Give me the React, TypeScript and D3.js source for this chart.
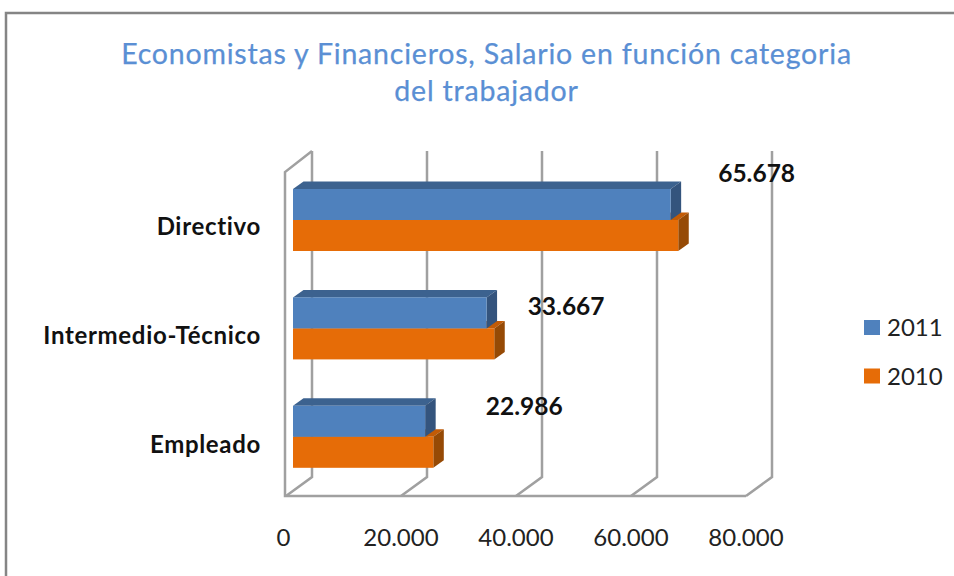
import React from "react";
import * as d3 from "d3";

const categories = ["Directivo", "Intermedio-Técnico", "Empleado"];
const values2011 = [65678, 33667, 22986];
const values2010 = [67000, 35000, 24400];
const valueLabels = ["65.678", "33.667", "22.986"];
const ticks = [0, 20000, 40000, 60000, 80000];
const tickLabels = ["0", "20.000", "40.000", "60.000", "80.000"];
const titleLines = ["Economistas y Financieros, Salario en función categoria", "del trabajador"];
const seriesNames = ["2011", "2010"];

const BLUE = "#4f81bd", BLUE_TOP = "#3c628f", BLUE_SIDE = "#34547d";
const ORANGE = "#e66c07", ORANGE_TOP = "#c25b06", ORANGE_SIDE = "#964a05";
const GRID = "#a0a0a0";
const FONT = "Lato, 'Open Sans', sans-serif";

export default function App() {
  const x = d3.scaleLinear().domain([0, 80000]).range([293, 753]);
  const y = d3.scaleBand().domain(categories).range([165.8, 491]);
  const barH = 31;
  const dx = 10.5, dy = 7.5;
  const backDx = 19, frontDx = -8, floorY = 496, backFloorY = 477, topY = 151;
  const labelOffsets = [86, 79.5, 99];
  const labelY = [182, 315, 415];

  const bar = (c: string, v: number, top: number, front: string, tp: string, side: string) => {
    const x0 = x(0), x1 = x(v), b = top + barH;
    return (
      <g key={c + front}>
        <polygon points={`${x0},${top} ${x0 + dx},${top - dy} ${x1 + dx},${top - dy} ${x1},${top}`} fill={tp} />
        <polygon points={`${x1},${top} ${x1 + dx},${top - dy} ${x1 + dx},${b - dy} ${x1},${b}`} fill={side} />
        <rect x={x0} y={top} width={x1 - x0} height={barH} fill={front} />
      </g>
    );
  };

  return (
    <svg width={954} height={576} style={{ position: "absolute", left: 0, top: 0, background: "#fff" }}>
      <path d="M6,576 V13 H954" fill="none" stroke="#858585" strokeWidth={2.5} />
      {titleLines.map((t, i) => (
        <text key={t} x={486.5} y={64 + i * 37} textAnchor="middle" fontFamily={FONT} fontSize={28.5} letterSpacing={0.8} fill="#5a8fd4" stroke="#5a8fd4" strokeWidth={0.25}>{t}</text>
      ))}
      <g fill="none" stroke={GRID} strokeWidth={2.5}>
        {ticks.map((t) => (
          <path key={t} d={`M${x(t) + backDx},${topY} V${backFloorY} L${x(t) + frontDx + 1},${floorY}`} />
        ))}
        <path d={`M${x(0) + backDx},${topY} L${x(0) + frontDx},${topY + 21} V${floorY} H${x(80000) + frontDx + 1}`} />
      </g>
      {categories.map((c, i) => {
        const top = (y(c) as number) + 23.2;
        return (
          <g key={c}>
            {bar(c, values2010[i], top + barH, ORANGE, ORANGE_TOP, ORANGE_SIDE)}
            {bar(c, values2011[i], top, BLUE, BLUE_TOP, BLUE_SIDE)}
            <text x={261} y={top + 46 + i * 0.5} textAnchor="end" fontFamily={FONT} fontWeight={700} fontSize={24} letterSpacing={0.68} fill="#111">{c}</text>
            <text x={x(values2011[i]) + labelOffsets[i]} y={labelY[i]} textAnchor="middle" fontFamily={FONT} fontWeight={700} fontSize={24.5} fill="#111">{valueLabels[i]}</text>
          </g>
        );
      })}
      {ticks.map((t, i) => (
        <text key={t} x={x(t) + frontDx - (i === 0 ? 1.5 : -1)} y={546} textAnchor="middle" fontFamily={FONT} fontSize={24} fill="#222">{tickLabels[i]}</text>
      ))}
      {seriesNames.map((s, i) => (
        <g key={s}>
          <rect x={864} y={320 + i * 48.5} width={16} height={15} fill={i === 0 ? BLUE : ORANGE} />
          <text x={887} y={336 + i * 48.5} fontFamily={FONT} fontSize={24} fill="#222">{s}</text>
        </g>
      ))}
    </svg>
  );
}
